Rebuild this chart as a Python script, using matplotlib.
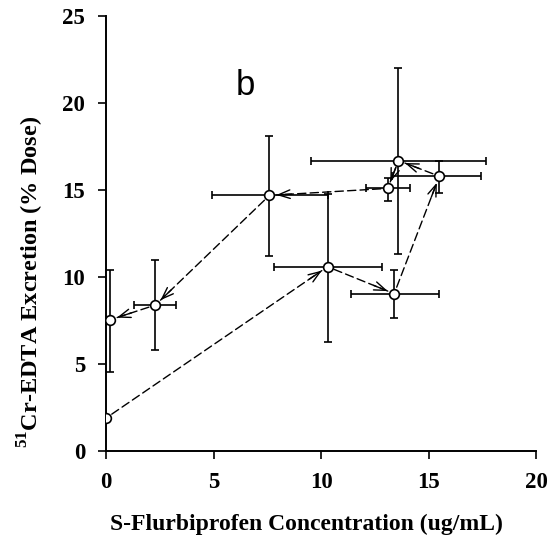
import matplotlib.pyplot as plt
import numpy as np

# data in time order (hysteresis loop)
conc = [0.0, 10.3, 13.4, 15.5, 13.6, 13.1, 7.6, 2.3, 0.2]
excr = [1.9, 10.6, 9.05, 15.8, 16.7, 15.1, 14.7, 8.4, 7.55]
conc_lo = [0.0, 7.8, 11.4, 13.3, 9.55, 12.1, 4.95, 1.3, 0.2]
conc_hi = [0.0, 12.85, 15.5, 17.45, 17.65, 14.15, 10.3, 3.25, 0.2]
excr_lo = [1.9, 6.3, 7.65, 14.85, 11.35, 14.4, 11.2, 5.8, 4.55]
excr_hi = [1.9, 14.8, 10.4, 16.7, 22.0, 15.7, 18.1, 11.0, 10.4]

plt.rcParams['font.family'] = ['Liberation Serif', 'DejaVu Serif']
plt.rcParams['mathtext.fontset'] = 'custom'
plt.rcParams['mathtext.rm'] = 'Liberation Serif:bold'

fig = plt.figure(figsize=(5.55, 5.39), dpi=100)
ax = fig.add_axes([0.191, 0.163, 0.775, 0.807])
ax.set_xlim(0, 20)
ax.set_ylim(0, 25)

x = np.array(conc)
y = np.array(excr)
xerr = [x - np.array(conc_lo), np.array(conc_hi) - x]
yerr = [y - np.array(excr_lo), np.array(excr_hi) - y]
ax.errorbar(x, y, xerr=xerr, yerr=yerr, fmt='none', ecolor='black',
            elinewidth=1.2, capsize=3, capthick=1.2, zorder=2)

# dashed connectors, solid heads near the end of each step
pts = ax.transData.transform(np.column_stack([x, y]))
for i in range(len(x) - 1):
    ax.annotate('', xy=(x[i + 1], y[i + 1]), xytext=(x[i], y[i]),
                arrowprops=dict(arrowstyle='-', linestyle=(0, (6, 3)), color='black',
                                lw=1.0, shrinkA=5, shrinkB=5), zorder=3)
    d = pts[i + 1] - pts[i]
    d = d / np.hypot(*d)
    ax.annotate('', xy=(x[i + 1], y[i + 1]), xytext=(-d[0] * 16, -d[1] * 16),
                textcoords='offset points',
                arrowprops=dict(arrowstyle='->,head_length=0.6,head_width=0.22',
                                color='black', lw=1.0, shrinkA=0, shrinkB=5,
                                mutation_scale=14), zorder=3)

ax.plot(x, y, 'o', ms=7, mfc='white', mec='black', mew=1.2, zorder=4, linestyle='none')

ax.text(6.5, 21.0, 'b', fontsize=25, ha='center', va='center', family='Liberation Sans')

ax.set_xticks([0, 5, 10, 15, 20])
ax.set_yticks([0, 5, 10, 15, 20, 25])
ax.spines['top'].set_visible(False)
ax.spines['right'].set_visible(False)
for s in ['left', 'bottom']:
    ax.spines[s].set_linewidth(1.4)
ax.tick_params(direction='out', length=6, width=1.2, labelsize=16.5, pad=9)
for lab in ax.get_xticklabels() + ax.get_yticklabels():
    lab.set_fontweight('bold')

ax.set_xlabel('S-Flurbiprofen Concentration (ug/mL)', fontsize=17, fontweight='bold')
ax.set_ylabel(r'$^{51}$Cr-EDTA Excretion (% Dose)', fontsize=17.5, fontweight='bold')
ax.xaxis.set_label_coords(0.465, -0.145)
ax.yaxis.set_label_coords(-0.14, 0.39)

fig.savefig('out.png', dpi=100)
